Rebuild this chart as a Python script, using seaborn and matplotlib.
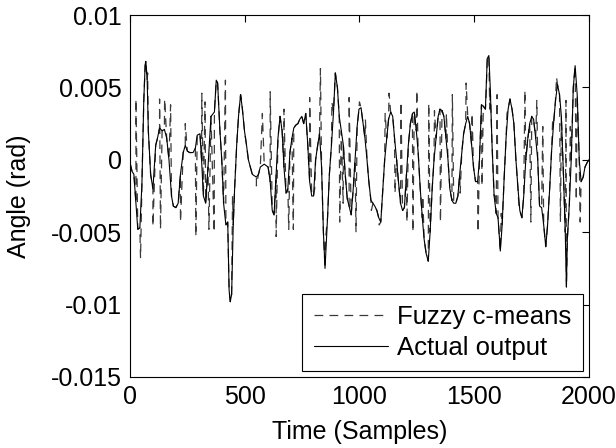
import numpy as np
import pandas as pd
import matplotlib
matplotlib.use("Agg")
import matplotlib.pyplot as plt
import seaborn as sns

# ---- data (values in 1e-3 rad) ----
actual_t = [0, 9, 17, 26, 34, 43, 52, 60, 66, 69, 75, 80, 90, 100, 112, 120, 129, 140, 150, 160,
            170, 181, 189, 200, 210, 220, 232, 241, 250, 260, 275, 285, 293, 305, 312, 320, 330, 340,
            353, 368, 376, 382, 392, 400, 408, 418, 426, 432, 437, 443, 450, 456, 465, 473, 482, 490,
            499, 508, 516, 533, 551, 560, 568, 585, 602, 611, 620, 628, 637, 645, 654, 663, 671, 680,
            688, 697, 706, 714, 723, 732, 740, 749, 757, 766, 775, 783, 792, 800, 809, 818, 826, 835,
            843, 850, 861, 869, 878, 887, 895, 904, 912, 921, 930, 938, 947, 955, 964, 973, 981, 990,
            998, 1007, 1016, 1024, 1033, 1041, 1050, 1059, 1067, 1076, 1084, 1093, 1102, 1110, 1119,
            1127, 1136, 1145, 1153, 1162, 1170, 1179, 1188, 1196, 1205, 1213, 1222, 1231, 1239, 1248,
            1256, 1265, 1274, 1282, 1291, 1300, 1308, 1317, 1325, 1334, 1343, 1351, 1360, 1368, 1377,
            1386, 1394, 1403, 1411, 1420, 1429, 1437, 1446, 1454, 1463, 1472, 1480, 1489, 1497, 1506,
            1515, 1523, 1532, 1540, 1549, 1557, 1564, 1570, 1578, 1587, 1596, 1604, 1614, 1622, 1630,
            1639, 1648, 1656, 1665, 1673, 1682, 1691, 1699, 1708, 1716, 1725, 1734, 1742, 1751, 1759,
            1768, 1777, 1785, 1794, 1803, 1812, 1820, 1829, 1837, 1846, 1854, 1863, 1872, 1880, 1889,
            1897, 1902, 1906, 1915, 1923, 1932, 1940, 1949, 1958, 1966, 1975, 1983, 1992, 2000]
actual_v = [-0.2, -0.8, -1.0, -3.0, -4.8, -4.7, -1.7, 4.0, 6.5, 6.8, 5.5, 2.0, -1.0, -2.0, 1.0, 1.5, 2.2, 2.0, 2.1, 1.5,
            0.0, -2.5, -3.2, -3.3, -3.0, -1.0, 0.5, 1.0, 0.6, 0.5, 0.5, 0.8, 1.7, 1.8, 0.0, -2.5, -3.0, -0.5,
            3.0, 3.3, 5.5, 5.3, 2.0, 0.0, -3.0, -4.5, -4.3, -9.0, -9.8, -9.3, -4.5, -2.0, 1.0, 3.0, 4.5, 3.5,
            2.0, 1.0, 0.0, -1.0, -1.2, -1.0, -0.5, -0.3, -0.5, -1.5, -3.5, -3.8, -1.0, 1.5, 3.0, 2.0, -0.5, -2.3,
            -2.0, 0.5, 1.5, 2.2, 2.4, 2.5, 2.8, 3.0, 2.5, 3.2, 1.0, -1.5, -2.5, -2.5, 0.0, 1.0, 1.8, -0.5,
            -5.0, -7.5, -4.0, -1.0, 1.0, 3.3, 6.0, 5.0, 3.0, 2.0, 1.0, -1.0, -2.7, -3.2, -3.8, -2.0, 0.0, 2.3,
            3.5, 3.6, 2.5, 1.5, 0.0, -1.5, -2.8, -3.0, -3.2, -3.5, -4.0, -4.3, -2.0, 0.0, 1.5,
            2.8, 3.3, 3.0, 1.5, 0.0, -1.5, -3.0, -3.5, -3.3, -1.0, 1.0, 2.5, 3.2, 3.3, 2.0,
            0.5, -2.0, -4.0, -5.5, -6.5, -7.0, -5.0, -2.0, 0.0, 1.5, 3.0, 3.5, 3.4, 3.0, 1.5,
            0.0, -2.0, -2.8, -3.0, -3.0, -2.5, -1.0, 0.5, 1.8, 2.5, 3.0, 2.5, 1.0, -0.5, -1.5,
            -1.5, 0.0, 3.8, 3.7, 3.5, 7.0, 7.2, 5.0, 1.0, -2.5, -3.7, -4.0, -6.3, -4.5, -1.5,
            1.5, 3.5, 4.2, 3.5, 2.5, 0.0, -2.0, -3.5, -4.0, -2.5, 0.0, 1.5, 2.5, 3.0, 2.8,
            1.5, 0.0, -3.2, -3.3, -4.5, -6.0, -4.5, -2.0, 0.5, 2.5, 4.0, 5.2, 4.5, 3.0, -1.0,
            -5.0, -8.8, -5.5, -3.0, 0.0, 5.0, 6.5, 4.5, 0.0, -1.5, -1.2, -0.5, -0.2, 0.0]

# extra excursions of the fuzzy c-means estimate (it otherwise follows the actual output)
fuzzy_spike_t = [26, 46, 77, 100, 129, 133, 151, 177, 220, 241, 287, 313, 327, 344, 367, 416, 447,
                 485, 551, 577, 611, 637, 654, 671, 692, 712, 745, 783, 805, 830, 852, 880, 914, 929,
                 955, 985, 1000, 1026, 1052, 1086, 1112, 1129, 1155, 1181, 1207, 1233, 1250, 1276, 1302,
                 1327, 1353, 1379, 1405, 1439, 1465, 1491, 1517, 1534, 1551, 1568, 1592, 1600, 1618,
                 1643, 1669, 1695, 1721, 1747, 1773, 1799, 1824, 1842, 1859, 1876, 1900, 1919, 1945, 1962]
fuzzy_spike_v = [4.2, -6.8, 6.0, -4.6, 4.2, -4.8, 4.2, 3.8, -4.3, 2.5, -5.3, 4.6, 4.0, -4.8, -5.0, 5.5, -2.5,
                 4.3, -1.8, 3.2, 4.7, -5.3, 3.0, 3.5, -4.8, -4.8, 3.0, 4.3, -2.0, 6.3, -5.5, 4.0, -4.3, -3.0,
                 4.3, -5.0, 4.0, 2.8, -3.5, -4.5, 3.2, 4.6, -2.3, 4.0, -4.3, -5.0, 4.8, -2.5, 3.9,
                 3.4, -4.3, 3.2, 4.5, -2.3, 5.3, 3.2, -5.0, -1.8, 4.0, 3.5, -2.5, 4.5, -3.7,
                 3.2, 3.0, -3.2, 4.8, -4.3, 4.1, 2.3, -3.2, 2.7, 5.7, -4.3, 4.1, 2.3, -2.8, -4.3]

x_ticks = [0, 500, 1000, 1500, 2000]
y_ticks = [-0.015, -0.01, -0.005, 0, 0.005, 0.01]
y_tick_labels = ["-0.015", "-0.01", "-0.005", "0", "0.005", "0.01"]
series_names = ["Fuzzy c-means", "Actual output"]

# ---- build tables ----
actual = pd.DataFrame({"t": actual_t, "v": np.array(actual_v) * 1e-3})
fuzzy = pd.concat([actual, pd.DataFrame({"t": fuzzy_spike_t, "v": np.array(fuzzy_spike_v) * 1e-3})])
fuzzy = fuzzy.sort_values("t", kind="stable").reset_index(drop=True)

sns.set_style("white")
plt.rcParams["font.family"] = ["Liberation Sans", "DejaVu Sans"]
plt.rcParams["text.color"] = "black"
plt.rcParams["axes.labelcolor"] = "black"
plt.rcParams["xtick.color"] = "black"
plt.rcParams["ytick.color"] = "black"
FS = 18

fig = plt.figure(figsize=(6.16, 4.48), dpi=100)
ax = fig.add_axes([0.211, 0.1585, 0.745, 0.808])

sns.lineplot(data=fuzzy, x="t", y="v", ax=ax, color="#3a3a3a", lw=0.9,
             linestyle=(0, (7, 5)), label=series_names[0], sort=False, estimator=None)
sns.lineplot(data=actual, x="t", y="v", ax=ax, color="black", lw=0.8,
             label=series_names[1], sort=False, estimator=None)

ax.set_xlim(0, 2000)
ax.set_ylim(-0.015, 0.01)
ax.set_xticks(x_ticks)
ax.set_xticklabels([str(v) for v in x_ticks])
ax.set_yticks(y_ticks)
ax.set_yticklabels(y_tick_labels)
ax.tick_params(direction="in", top=True, right=True, length=5, width=0.8,
               labelsize=FS, colors="black", labelcolor="black", pad=6)
for s in ax.spines.values():
    s.set_visible(True)
    s.set_color("black")
    s.set_linewidth(0.8)
ax.set_xlabel("Time (Samples)", fontsize=FS, labelpad=8, color="black")
ax.set_ylabel("Angle (rad)", fontsize=FS, labelpad=14, color="black")

leg = ax.legend(loc="lower right", fontsize=18.5, frameon=True, fancybox=False,
                edgecolor="black", framealpha=1, handlelength=2.9, handletextpad=0.35,
                borderpad=0.45, borderaxespad=0.23, labelspacing=0.25, labelcolor="black")
leg.get_frame().set_linewidth(0.8)

fig.savefig("out.png", dpi=100)
